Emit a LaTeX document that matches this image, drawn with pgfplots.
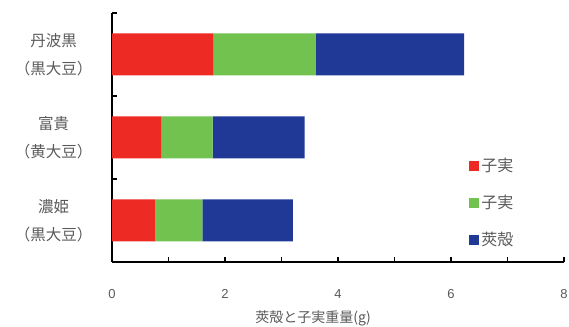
\documentclass[border=0pt]{standalone}
\usepackage{fontspec}
\setmainfont{Liberation Sans}
\newfontfamily\cjk{Noto Sans CJK JP}
\usepackage{pgfplots}
\pgfplotsset{compat=1.18}
\definecolor{cred}{RGB}{238,42,36}
\definecolor{cgreen}{RGB}{114,194,80}
\definecolor{cblue}{RGB}{32,56,150}
\definecolor{ctext}{RGB}{90,90,90}
\pgfplotsset{sqlegend/.style={legend image code/.code={\fill[##1] (0pt,-5pt) rectangle (10pt,5pt);}}}
\begin{document}
\begin{tikzpicture}
\begin{axis}[
  scale only axis, width=452pt, height=249pt,
  xbar stacked, bar width=42pt,
  xmin=0, xmax=8, ymin=-0.5, ymax=2.5,
  axis lines=left, axis line style={line width=2pt, -},
  xtick={0,2,4,6,8}, minor xtick={1,3,5,7},
  xtick style={line width=1.2pt, black}, tick align=inside,
  major tick length=5pt, minor tick length=5pt,
  minor tick style={line width=1.2pt, black},
  ytick={0,1,2},
  yticklabels={{濃姫\\（黒大豆）},{富貴\\（黄大豆）},{丹波黒\\（黒大豆）}},
  ytick style={draw=none},
  extra y ticks={0.5,1.5,2.5},
  extra y tick labels={},
  extra y tick style={ytick style={line width=1.2pt, black, draw}, major tick length=5pt},
  yticklabel style={align=center, font=\cjk\fontsize{15.5}{28}\selectfont, text=ctext, xshift=-16pt},
  xticklabel style={font=\fontsize{13}{15}\selectfont, text=ctext, yshift=-24pt},
  /pgf/number format/assume math mode=true,
  xlabel={\cjk 莢殻と子実重量(g)},
  xlabel style={font=\fontsize{14}{16}\selectfont, text=ctext, at={(axis description cs:0.445,-0.225)}, anchor=center},
  legend style={at={(axis description cs:0.79,0.425)}, anchor=north west, draw=none, fill=none,
    font=\cjk\fontsize{16}{18}\selectfont, text=ctext, row sep=18pt, inner sep=0pt},
  legend cell align=left,
  sqlegend,
]
\addplot[fill=cred, draw=none] coordinates {(0.76,0) (0.87,1) (1.79,2)};
\addplot[fill=cgreen, draw=none] coordinates {(0.84,0) (0.91,1) (1.82,2)};
\addplot[fill=cblue, draw=none] coordinates {(1.60,0) (1.63,1) (2.62,2)};
\legend{子実,子実,莢殻}
\coordinate (bl) at (rel axis cs:0,0);
\coordinate (tr) at (rel axis cs:1,1);
\end{axis}
\pgfresetboundingbox
\path ([shift={(-112pt,-65pt)}]bl) rectangle ([shift={(5pt,13pt)}]tr);
\end{tikzpicture}
\end{document}
